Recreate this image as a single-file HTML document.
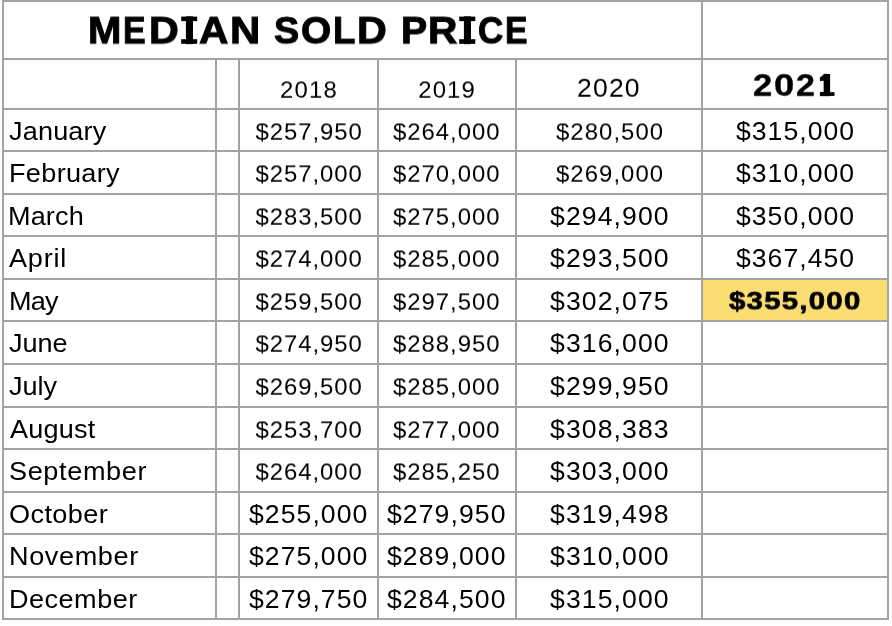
<!DOCTYPE html><html><head><meta charset="utf-8"><title>Median Sold Price</title><style>
html,body{margin:0;padding:0;background:#fff}
html{width:892px;height:626px;overflow:hidden}
body{width:892px;height:626px;position:relative;overflow:hidden;font-family:"Liberation Sans",sans-serif;color:#000}
.g{position:absolute;background:#a3a3a3}
.w{position:absolute;left:0;transform-origin:0 0;will-change:transform;height:38px}
.t{position:absolute;top:0;white-space:nowrap;line-height:1;transform-origin:0 0;display:block}
.b{font-weight:700}
svg{position:absolute;left:0;top:0}
</style></head><body>
<div style="position:absolute;left:703px;top:280px;width:184px;height:40px;background:#fbdd74"></div>
<div class="g" style="left:2px;top:0px;width:887px;height:2px"></div>
<div class="g" style="left:2px;top:58px;width:887px;height:2px"></div>
<div class="g" style="left:2px;top:108px;width:887px;height:2px"></div>
<div class="g" style="left:2px;top:150px;width:887px;height:2px"></div>
<div class="g" style="left:2px;top:193px;width:887px;height:2px"></div>
<div class="g" style="left:2px;top:235px;width:887px;height:2px"></div>
<div class="g" style="left:2px;top:278px;width:887px;height:2px"></div>
<div class="g" style="left:2px;top:320px;width:887px;height:2px"></div>
<div class="g" style="left:2px;top:363px;width:887px;height:2px"></div>
<div class="g" style="left:2px;top:406px;width:887px;height:2px"></div>
<div class="g" style="left:2px;top:448px;width:887px;height:2px"></div>
<div class="g" style="left:2px;top:491px;width:887px;height:2px"></div>
<div class="g" style="left:2px;top:533px;width:887px;height:2px"></div>
<div class="g" style="left:2px;top:576px;width:887px;height:2px"></div>
<div class="g" style="left:2px;top:618px;width:887px;height:2px"></div>
<div class="g" style="left:2px;top:0px;width:2px;height:620px"></div>
<div class="g" style="left:215px;top:58px;width:2px;height:562px"></div>
<div class="g" style="left:238px;top:58px;width:2px;height:562px"></div>
<div class="g" style="left:377px;top:58px;width:2px;height:562px"></div>
<div class="g" style="left:515px;top:58px;width:2px;height:562px"></div>
<div class="g" style="left:701px;top:0px;width:2px;height:620px"></div>
<div class="g" style="left:887px;top:0px;width:2px;height:620px"></div>
<svg width="892" height="120" viewBox="0 0 892 120"><rect x="185.90" y="16.60" width="7.10" height="27.20"/><rect x="181.20" y="16.60" width="16.00" height="4.50"/><rect x="181.20" y="39.20" width="16.00" height="4.60"/><rect x="463.90" y="16.60" width="7.00" height="27.20"/><rect x="459.20" y="16.60" width="16.10" height="4.50"/><rect x="459.20" y="39.20" width="16.10" height="4.60"/><rect x="819.90" y="92.20" width="14.60" height="3.70"/><rect x="824.60" y="74.00" width="5.50" height="21.90"/><rect x="819.90" y="77.00" width="5.00" height="3.80"/></svg>
<div class="w" style="left:85px;top:10px;width:40px;transform:matrix3d(1,0,0,0,0,0.9714,0,0,0,0,1,0,0,2.229,0,1)"><span class="t b" style="left:2.80px;font-size:38.80px;transform:scaleX(1.0327);-webkit-text-stroke:1.00px #000">M</span></div>
<div class="w" style="left:121px;top:10px;width:30px;transform:matrix3d(1,0,0,0,0,0.9714,0,0,0,0,1,0,0,2.229,0,1)"><span class="t b" style="left:2.18px;font-size:38.80px;transform:scaleX(0.8738);-webkit-text-stroke:1.00px #000">E</span></div>
<div class="w" style="left:146px;top:10px;width:37px;transform:matrix3d(1,0,0,0,0,0.9714,0,0,0,0,1,0,0,2.229,0,1)"><span class="t b" style="left:2.82px;font-size:38.80px;transform:scaleX(1.0639);-webkit-text-stroke:1.00px #000">D</span></div>
<div class="w" style="left:181px;top:10px;width:18px;transform:matrix3d(1,0,0,0,0,0.9714,0,0,0,0,1,0,0,2.229,0,1)"><span class="t b" style="left:2.96px;font-size:38.80px;transform:scaleX(1.0062);-webkit-text-stroke:1.00px #000">I</span></div>
<div class="w" style="left:196px;top:10px;width:37px;transform:matrix3d(1,0,0,0,0,0.9714,0,0,0,0,1,0,0,2.229,0,1)"><span class="t b" style="left:2.76px;font-size:38.80px;transform:scaleX(1.0497);-webkit-text-stroke:1.00px #000">A</span></div>
<div class="w" style="left:227px;top:10px;width:36px;transform:matrix3d(1,0,0,0,0,0.9714,0,0,0,0,1,0,0,2.229,0,1)"><span class="t b" style="left:2.78px;font-size:38.80px;transform:scaleX(1.0808);-webkit-text-stroke:1.00px #000">N</span></div>
<div class="w" style="left:272px;top:10px;width:33px;transform:matrix3d(1,0,0,0,0,0.9714,0,0,0,0,1,0,0,2.229,0,1)"><span class="t b" style="left:2.31px;font-size:38.80px;transform:scaleX(0.9732);-webkit-text-stroke:1.00px #000">S</span></div>
<div class="w" style="left:298px;top:10px;width:38px;transform:matrix3d(1,0,0,0,0,0.9714,0,0,0,0,1,0,0,2.229,0,1)"><span class="t b" style="left:2.79px;font-size:38.80px;transform:scaleX(1.0004);-webkit-text-stroke:1.00px #000">O</span></div>
<div class="w" style="left:331px;top:10px;width:30px;transform:matrix3d(1,0,0,0,0,0.9714,0,0,0,0,1,0,0,2.229,0,1)"><span class="t b" style="left:2.01px;font-size:38.80px;transform:scaleX(0.9460);-webkit-text-stroke:1.00px #000">L</span></div>
<div class="w" style="left:354px;top:10px;width:37px;transform:matrix3d(1,0,0,0,0,0.9714,0,0,0,0,1,0,0,2.229,0,1)"><span class="t b" style="left:2.92px;font-size:38.80px;transform:scaleX(1.0639);-webkit-text-stroke:1.00px #000">D</span></div>
<div class="w" style="left:398px;top:10px;width:34px;transform:matrix3d(1,0,0,0,0,0.9714,0,0,0,0,1,0,0,2.229,0,1)"><span class="t b" style="left:2.85px;font-size:38.80px;transform:scaleX(1.0120);-webkit-text-stroke:1.00px #000">P</span></div>
<div class="w" style="left:425px;top:10px;width:37px;transform:matrix3d(1,0,0,0,0,0.9714,0,0,0,0,1,0,0,2.229,0,1)"><span class="t b" style="left:2.75px;font-size:38.80px;transform:scaleX(1.0500);-webkit-text-stroke:1.00px #000">R</span></div>
<div class="w" style="left:460px;top:10px;width:16px;transform:matrix3d(1,0,0,0,0,0.9714,0,0,0,0,1,0,0,2.229,0,1)"><span class="t b" style="left:2.00px;font-size:38.80px;transform:scaleX(0.9897);-webkit-text-stroke:1.00px #000">I</span></div>
<div class="w" style="left:475px;top:10px;width:34px;transform:matrix3d(1,0,0,0,0,0.9714,0,0,0,0,1,0,0,2.229,0,1)"><span class="t b" style="left:2.90px;font-size:38.80px;transform:scaleX(0.9053);-webkit-text-stroke:1.00px #000">C</span></div>
<div class="w" style="left:503px;top:10px;width:30px;transform:matrix3d(1,0,0,0,0,0.9714,0,0,0,0,1,0,0,2.229,0,1)"><span class="t b" style="left:2.39px;font-size:38.80px;transform:scaleX(0.8693);-webkit-text-stroke:1.00px #000">E</span></div>
<div class="w" style="left:277px;top:76px;width:64px;transform:matrix3d(1,0,0,0,0,0.9588,0,0,0,0,1,0,0,2.524,0,1)"><span class="t" style="left:2.88px;font-size:23.90px;transform:scaleX(1.0000);letter-spacing:1.274px">2018</span></div>
<div class="w" style="left:416px;top:76px;width:63px;transform:matrix3d(1,0,0,0,0,0.9588,0,0,0,0,1,0,0,2.524,0,1)"><span class="t" style="left:2.18px;font-size:23.90px;transform:scaleX(1.0000);letter-spacing:1.174px">2019</span></div>
<div class="w" style="left:575px;top:73px;width:70px;transform:matrix3d(1,0,0,0,0,0.9944,0,0,0,0,1,0,0,2.817,0,1)"><span class="t" style="left:2.25px;font-size:25.80px;transform:scaleX(1.0300);letter-spacing:1.130px">2020</span></div>
<div class="w" style="left:751px;top:68px;width:26px;transform:matrix3d(1,0,0,0,0,0.9777,0,0,0,0,1,0,0,2.285,0,1)"><span class="t b" style="left:2.32px;font-size:31.40px;transform:scaleX(1.1019);-webkit-text-stroke:0.40px #000">2</span></div>
<div class="w" style="left:771px;top:68px;width:27px;transform:matrix3d(1,0,0,0,0,0.9777,0,0,0,0,1,0,0,2.285,0,1)"><span class="t b" style="left:2.76px;font-size:31.40px;transform:scaleX(1.1572);-webkit-text-stroke:0.40px #000">0</span></div>
<div class="w" style="left:794px;top:68px;width:26px;transform:matrix3d(1,0,0,0,0,0.9777,0,0,0,0,1,0,0,2.285,0,1)"><span class="t b" style="left:2.04px;font-size:31.40px;transform:scaleX(1.0828);-webkit-text-stroke:0.40px #000">2</span></div>
<div class="w" style="left:816px;top:68px;width:20px;transform:matrix3d(1,0,0,0,0,0.9777,0,0,0,0,1,0,0,2.285,0,1)"><span class="t b" style="left:2.79px;font-size:31.40px;transform:scaleX(0.6658);-webkit-text-stroke:0.40px #000">1</span></div>
<div class="w" style="left:6px;top:116px;width:106px;transform:matrix3d(1,0,0,0,0,1.0000,0,0,0,0,1,0,0,2.700,0,1)"><span class="t" style="left:2.88px;font-size:25.80px;transform:scaleX(1.0500);letter-spacing:0.150px">January</span></div>
<div class="w" style="left:6px;top:158px;width:119px;transform:matrix3d(1,0,0,0,0,1.0000,0,0,0,0,1,0,0,2.700,0,1)"><span class="t" style="left:2.68px;font-size:25.80px;transform:scaleX(1.0500);letter-spacing:0.302px">February</span></div>
<div class="w" style="left:6px;top:201px;width:82px;transform:matrix3d(1,0,0,0,0,1.0000,0,0,0,0,1,0,0,2.700,0,1)"><span class="t" style="left:2.48px;font-size:25.80px;transform:scaleX(1.0500);letter-spacing:0.113px">March</span></div>
<div class="w" style="left:7px;top:243px;width:63px;transform:matrix3d(1,0,0,0,0,1.0000,0,0,0,0,1,0,0,2.700,0,1)"><span class="t" style="left:2.20px;font-size:25.80px;transform:scaleX(1.0500);letter-spacing:0.712px">April</span></div>
<div class="w" style="left:6px;top:286px;width:58px;transform:matrix3d(1,0,0,0,0,1.0000,0,0,0,0,1,0,0,2.700,0,1)"><span class="t" style="left:2.68px;font-size:25.80px;transform:scaleX(1.0500);letter-spacing:-0.743px">May</span></div>
<div class="w" style="left:6px;top:328px;width:66px;transform:matrix3d(1,0,0,0,0,1.0000,0,0,0,0,1,0,0,2.700,0,1)"><span class="t" style="left:2.88px;font-size:25.80px;transform:scaleX(1.0500);letter-spacing:-0.039px">June</span></div>
<div class="w" style="left:6px;top:371px;width:57px;transform:matrix3d(1,0,0,0,0,1.0000,0,0,0,0,1,0,0,2.700,0,1)"><span class="t" style="left:2.88px;font-size:25.80px;transform:scaleX(1.0500);letter-spacing:-0.016px">July</span></div>
<div class="w" style="left:7px;top:414px;width:94px;transform:matrix3d(1,0,0,0,0,1.0000,0,0,0,0,1,0,0,2.700,0,1)"><span class="t" style="left:2.90px;font-size:25.80px;transform:scaleX(1.0500);letter-spacing:0.204px">August</span></div>
<div class="w" style="left:7px;top:456px;width:145px;transform:matrix3d(1,0,0,0,0,1.0000,0,0,0,0,1,0,0,2.700,0,1)"><span class="t" style="left:2.35px;font-size:25.80px;transform:scaleX(1.0500);letter-spacing:0.591px">September</span></div>
<div class="w" style="left:6px;top:499px;width:107px;transform:matrix3d(1,0,0,0,0,1.0000,0,0,0,0,1,0,0,2.700,0,1)"><span class="t" style="left:2.93px;font-size:25.80px;transform:scaleX(1.0500);letter-spacing:0.387px">October</span></div>
<div class="w" style="left:6px;top:541px;width:137px;transform:matrix3d(1,0,0,0,0,1.0000,0,0,0,0,1,0,0,2.700,0,1)"><span class="t" style="left:2.68px;font-size:25.80px;transform:scaleX(1.0500);letter-spacing:0.583px">November</span></div>
<div class="w" style="left:6px;top:584px;width:136px;transform:matrix3d(1,0,0,0,0,1.0000,0,0,0,0,1,0,0,2.700,0,1)"><span class="t" style="left:2.68px;font-size:25.80px;transform:scaleX(1.0500);letter-spacing:0.447px">December</span></div>
<div class="w" style="left:253px;top:118px;width:114px;transform:matrix3d(1,0,0,0,0,0.9588,0,0,0,0,1,0,0,2.524,0,1)"><span class="t" style="left:2.50px;font-size:23.90px;transform:scaleX(1.0000);letter-spacing:0.959px">$257,950</span></div>
<div class="w" style="left:253px;top:160px;width:114px;transform:matrix3d(1,0,0,0,0,0.9588,0,0,0,0,1,0,0,2.524,0,1)"><span class="t" style="left:2.50px;font-size:23.90px;transform:scaleX(1.0000);letter-spacing:0.959px">$257,000</span></div>
<div class="w" style="left:253px;top:203px;width:114px;transform:matrix3d(1,0,0,0,0,0.9588,0,0,0,0,1,0,0,2.524,0,1)"><span class="t" style="left:2.50px;font-size:23.90px;transform:scaleX(1.0000);letter-spacing:0.959px">$283,500</span></div>
<div class="w" style="left:253px;top:245px;width:114px;transform:matrix3d(1,0,0,0,0,0.9588,0,0,0,0,1,0,0,2.524,0,1)"><span class="t" style="left:2.50px;font-size:23.90px;transform:scaleX(1.0000);letter-spacing:0.959px">$274,000</span></div>
<div class="w" style="left:253px;top:288px;width:114px;transform:matrix3d(1,0,0,0,0,0.9588,0,0,0,0,1,0,0,2.524,0,1)"><span class="t" style="left:2.50px;font-size:23.90px;transform:scaleX(1.0000);letter-spacing:0.959px">$259,500</span></div>
<div class="w" style="left:253px;top:330px;width:114px;transform:matrix3d(1,0,0,0,0,0.9588,0,0,0,0,1,0,0,2.524,0,1)"><span class="t" style="left:2.50px;font-size:23.90px;transform:scaleX(1.0000);letter-spacing:0.959px">$274,950</span></div>
<div class="w" style="left:253px;top:373px;width:114px;transform:matrix3d(1,0,0,0,0,0.9588,0,0,0,0,1,0,0,2.524,0,1)"><span class="t" style="left:2.50px;font-size:23.90px;transform:scaleX(1.0000);letter-spacing:0.959px">$269,500</span></div>
<div class="w" style="left:253px;top:416px;width:114px;transform:matrix3d(1,0,0,0,0,0.9588,0,0,0,0,1,0,0,2.524,0,1)"><span class="t" style="left:2.50px;font-size:23.90px;transform:scaleX(1.0000);letter-spacing:0.959px">$253,700</span></div>
<div class="w" style="left:253px;top:458px;width:114px;transform:matrix3d(1,0,0,0,0,0.9588,0,0,0,0,1,0,0,2.524,0,1)"><span class="t" style="left:2.50px;font-size:23.90px;transform:scaleX(1.0000);letter-spacing:0.959px">$264,000</span></div>
<div class="w" style="left:247px;top:499px;width:126px;transform:matrix3d(1,0,0,0,0,1.0111,0,0,0,0,1,0,0,2.467,0,1)"><span class="t" style="left:2.00px;font-size:25.80px;transform:scaleX(1.0300);letter-spacing:1.044px">$255,000</span></div>
<div class="w" style="left:247px;top:541px;width:126px;transform:matrix3d(1,0,0,0,0,1.0111,0,0,0,0,1,0,0,2.467,0,1)"><span class="t" style="left:2.00px;font-size:25.80px;transform:scaleX(1.0300);letter-spacing:1.044px">$275,000</span></div>
<div class="w" style="left:247px;top:584px;width:126px;transform:matrix3d(1,0,0,0,0,1.0111,0,0,0,0,1,0,0,2.467,0,1)"><span class="t" style="left:2.00px;font-size:25.80px;transform:scaleX(1.0300);letter-spacing:1.044px">$279,750</span></div>
<div class="w" style="left:391px;top:118px;width:114px;transform:matrix3d(1,0,0,0,0,0.9588,0,0,0,0,1,0,0,2.524,0,1)"><span class="t" style="left:2.00px;font-size:23.90px;transform:scaleX(1.0000);letter-spacing:0.987px">$264,000</span></div>
<div class="w" style="left:391px;top:160px;width:114px;transform:matrix3d(1,0,0,0,0,0.9588,0,0,0,0,1,0,0,2.524,0,1)"><span class="t" style="left:2.00px;font-size:23.90px;transform:scaleX(1.0000);letter-spacing:0.987px">$270,000</span></div>
<div class="w" style="left:391px;top:203px;width:114px;transform:matrix3d(1,0,0,0,0,0.9588,0,0,0,0,1,0,0,2.524,0,1)"><span class="t" style="left:2.00px;font-size:23.90px;transform:scaleX(1.0000);letter-spacing:0.987px">$275,000</span></div>
<div class="w" style="left:391px;top:245px;width:114px;transform:matrix3d(1,0,0,0,0,0.9588,0,0,0,0,1,0,0,2.524,0,1)"><span class="t" style="left:2.00px;font-size:23.90px;transform:scaleX(1.0000);letter-spacing:0.987px">$285,000</span></div>
<div class="w" style="left:391px;top:288px;width:114px;transform:matrix3d(1,0,0,0,0,0.9588,0,0,0,0,1,0,0,2.524,0,1)"><span class="t" style="left:2.00px;font-size:23.90px;transform:scaleX(1.0000);letter-spacing:0.987px">$297,500</span></div>
<div class="w" style="left:391px;top:330px;width:114px;transform:matrix3d(1,0,0,0,0,0.9588,0,0,0,0,1,0,0,2.524,0,1)"><span class="t" style="left:2.00px;font-size:23.90px;transform:scaleX(1.0000);letter-spacing:0.987px">$288,950</span></div>
<div class="w" style="left:391px;top:373px;width:114px;transform:matrix3d(1,0,0,0,0,0.9588,0,0,0,0,1,0,0,2.524,0,1)"><span class="t" style="left:2.00px;font-size:23.90px;transform:scaleX(1.0000);letter-spacing:0.987px">$285,000</span></div>
<div class="w" style="left:391px;top:416px;width:114px;transform:matrix3d(1,0,0,0,0,0.9588,0,0,0,0,1,0,0,2.524,0,1)"><span class="t" style="left:2.00px;font-size:23.90px;transform:scaleX(1.0000);letter-spacing:0.987px">$277,000</span></div>
<div class="w" style="left:391px;top:458px;width:114px;transform:matrix3d(1,0,0,0,0,0.9588,0,0,0,0,1,0,0,2.524,0,1)"><span class="t" style="left:2.00px;font-size:23.90px;transform:scaleX(1.0000);letter-spacing:0.987px">$285,250</span></div>
<div class="w" style="left:385px;top:499px;width:126px;transform:matrix3d(1,0,0,0,0,1.0111,0,0,0,0,1,0,0,2.467,0,1)"><span class="t" style="left:2.00px;font-size:25.80px;transform:scaleX(1.0300);letter-spacing:1.057px">$279,950</span></div>
<div class="w" style="left:385px;top:541px;width:126px;transform:matrix3d(1,0,0,0,0,1.0111,0,0,0,0,1,0,0,2.467,0,1)"><span class="t" style="left:2.00px;font-size:25.80px;transform:scaleX(1.0300);letter-spacing:1.057px">$289,000</span></div>
<div class="w" style="left:385px;top:584px;width:126px;transform:matrix3d(1,0,0,0,0,1.0111,0,0,0,0,1,0,0,2.467,0,1)"><span class="t" style="left:2.00px;font-size:25.80px;transform:scaleX(1.0300);letter-spacing:1.057px">$284,500</span></div>
<div class="w" style="left:554px;top:118px;width:114px;transform:matrix3d(1,0,0,0,0,0.9588,0,0,0,0,1,0,0,2.524,0,1)"><span class="t" style="left:2.00px;font-size:23.90px;transform:scaleX(1.0000);letter-spacing:1.059px">$280,500</span></div>
<div class="w" style="left:554px;top:160px;width:114px;transform:matrix3d(1,0,0,0,0,0.9588,0,0,0,0,1,0,0,2.524,0,1)"><span class="t" style="left:2.00px;font-size:23.90px;transform:scaleX(1.0000);letter-spacing:1.059px">$269,000</span></div>
<div class="w" style="left:547px;top:201px;width:127px;transform:matrix3d(1,0,0,0,0,1.0111,0,0,0,0,1,0,0,2.467,0,1)"><span class="t" style="left:2.90px;font-size:25.80px;transform:scaleX(1.0300);letter-spacing:1.071px">$294,900</span></div>
<div class="w" style="left:547px;top:243px;width:127px;transform:matrix3d(1,0,0,0,0,1.0111,0,0,0,0,1,0,0,2.467,0,1)"><span class="t" style="left:2.90px;font-size:25.80px;transform:scaleX(1.0300);letter-spacing:1.071px">$293,500</span></div>
<div class="w" style="left:547px;top:286px;width:127px;transform:matrix3d(1,0,0,0,0,1.0111,0,0,0,0,1,0,0,2.467,0,1)"><span class="t" style="left:2.90px;font-size:25.80px;transform:scaleX(1.0300);letter-spacing:1.071px">$302,075</span></div>
<div class="w" style="left:547px;top:328px;width:127px;transform:matrix3d(1,0,0,0,0,1.0111,0,0,0,0,1,0,0,2.467,0,1)"><span class="t" style="left:2.90px;font-size:25.80px;transform:scaleX(1.0300);letter-spacing:1.071px">$316,000</span></div>
<div class="w" style="left:547px;top:371px;width:127px;transform:matrix3d(1,0,0,0,0,1.0111,0,0,0,0,1,0,0,2.467,0,1)"><span class="t" style="left:2.90px;font-size:25.80px;transform:scaleX(1.0300);letter-spacing:1.071px">$299,950</span></div>
<div class="w" style="left:547px;top:414px;width:127px;transform:matrix3d(1,0,0,0,0,1.0111,0,0,0,0,1,0,0,2.467,0,1)"><span class="t" style="left:2.90px;font-size:25.80px;transform:scaleX(1.0300);letter-spacing:1.071px">$308,383</span></div>
<div class="w" style="left:547px;top:456px;width:127px;transform:matrix3d(1,0,0,0,0,1.0111,0,0,0,0,1,0,0,2.467,0,1)"><span class="t" style="left:2.90px;font-size:25.80px;transform:scaleX(1.0300);letter-spacing:1.071px">$303,000</span></div>
<div class="w" style="left:547px;top:499px;width:127px;transform:matrix3d(1,0,0,0,0,1.0111,0,0,0,0,1,0,0,2.467,0,1)"><span class="t" style="left:2.90px;font-size:25.80px;transform:scaleX(1.0300);letter-spacing:1.071px">$319,498</span></div>
<div class="w" style="left:547px;top:541px;width:127px;transform:matrix3d(1,0,0,0,0,1.0111,0,0,0,0,1,0,0,2.467,0,1)"><span class="t" style="left:2.90px;font-size:25.80px;transform:scaleX(1.0300);letter-spacing:1.071px">$310,000</span></div>
<div class="w" style="left:547px;top:584px;width:127px;transform:matrix3d(1,0,0,0,0,1.0111,0,0,0,0,1,0,0,2.467,0,1)"><span class="t" style="left:2.90px;font-size:25.80px;transform:scaleX(1.0300);letter-spacing:1.071px">$315,000</span></div>
<div class="w" style="left:734px;top:116px;width:125px;transform:matrix3d(1,0,0,0,0,1.0111,0,0,0,0,1,0,0,2.467,0,1)"><span class="t" style="left:2.00px;font-size:25.80px;transform:scaleX(1.0300);letter-spacing:1.002px">$315,000</span></div>
<div class="w" style="left:734px;top:158px;width:125px;transform:matrix3d(1,0,0,0,0,1.0111,0,0,0,0,1,0,0,2.467,0,1)"><span class="t" style="left:2.00px;font-size:25.80px;transform:scaleX(1.0300);letter-spacing:1.002px">$310,000</span></div>
<div class="w" style="left:734px;top:201px;width:125px;transform:matrix3d(1,0,0,0,0,1.0111,0,0,0,0,1,0,0,2.467,0,1)"><span class="t" style="left:2.00px;font-size:25.80px;transform:scaleX(1.0300);letter-spacing:1.002px">$350,000</span></div>
<div class="w" style="left:734px;top:243px;width:125px;transform:matrix3d(1,0,0,0,0,1.0111,0,0,0,0,1,0,0,2.467,0,1)"><span class="t" style="left:2.00px;font-size:25.80px;transform:scaleX(1.0300);letter-spacing:1.002px">$367,450</span></div>
<div class="w" style="left:726px;top:287px;width:140px;transform:matrix3d(1,0,0,0,0,0.9733,0,0,0,0,1,0,0,1.921,0,1)"><span class="t b" style="left:2.95px;font-size:25.80px;transform:scaleX(1.1400);letter-spacing:1.080px;-webkit-text-stroke:0.70px #000">$355,000</span></div>
</body></html>
